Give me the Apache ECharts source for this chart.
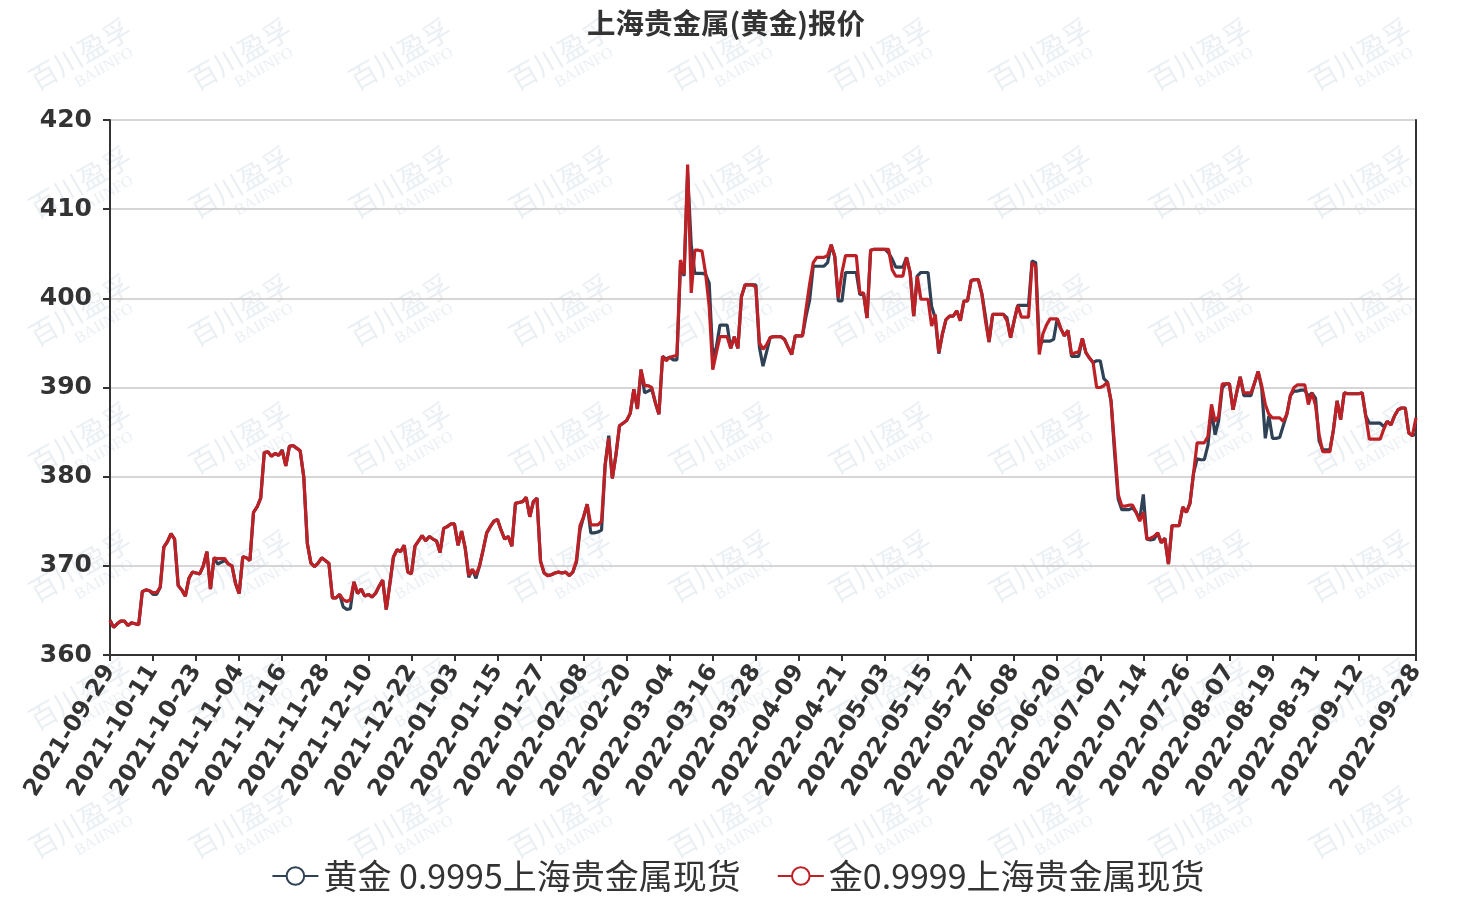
<!DOCTYPE html>
<html>
<head>
<meta charset="utf-8">
<script src="https://cdn.jsdelivr.net/npm/echarts@6/dist/echarts.min.js"></script>
<style>
html,body{margin:0;padding:0;background:#fff;}
#main{width:1476px;height:900px;}
</style>
</head>
<body>
<div id="main"></div>
<script>
// ---- data ----
const startDate = '2021-09-29';
const dayCount = 365;
const titleText = '上海贵金属(黄金)报价';
const seriesNames = ['黄金 0.9995上海贵金属现货', '金0.9999上海贵金属现货'];
const yTicks = [360, 370, 380, 390, 400, 410, 420];

// 黄金 0.9995上海贵金属现货 (daily, 2021-09-29 .. 2022-09-28)
const gold9995 = [
363.9,363.1,363.5,363.8,363.8,363.3,363.6,363.5,363.4,367.1,
367.3,367.2,366.8,366.8,367.6,372.1,372.7,373.6,373.0,367.8,
367.3,366.6,368.6,369.3,369.2,369.1,370.0,371.6,367.4,370.9,
370.2,370.4,370.6,370.2,370.0,368.0,366.9,371.0,370.9,370.6,
376.0,376.6,377.6,382.7,382.8,382.3,382.6,382.4,383.0,381.2,
383.4,383.5,383.2,382.9,380.0,372.5,370.3,369.9,370.3,370.9,
370.6,370.3,366.4,366.4,366.8,365.4,365.1,365.2,368.2,366.9,
367.4,366.6,366.8,366.5,366.9,367.7,368.4,365.1,368.0,371.0,
371.8,371.6,372.3,369.3,369.1,372.2,372.8,373.4,372.8,373.3,
373.0,372.8,371.5,374.2,374.4,374.7,374.7,372.3,373.9,372.0,
368.7,369.6,368.6,370.0,371.8,373.7,374.4,375.0,375.2,374.0,
373.0,373.3,372.2,377.0,377.1,377.2,377.7,375.5,377.2,377.6,
370.5,369.2,368.9,369.0,369.2,369.3,369.2,369.3,368.9,369.3,
370.4,374.0,375.5,376.9,373.7,373.7,373.8,374.0,381.3,384.6,
379.8,382.4,385.7,386.0,386.3,387.1,389.8,387.6,392.0,389.4,
389.6,389.8,388.3,387.0,393.5,393.2,393.4,393.1,393.1,403.8,
402.5,414.0,406.0,402.8,402.8,402.8,402.7,401.7,393.5,394.5,
397.0,397.0,397.0,394.4,395.7,394.4,400.2,401.5,401.5,401.5,
401.5,394.5,392.4,394.0,395.6,395.7,395.7,395.7,395.4,394.5,
393.7,395.8,395.8,395.8,398.0,399.8,403.6,403.6,403.6,403.6,
404.0,406.0,404.7,399.7,399.7,402.9,402.9,402.9,402.9,400.4,
400.6,397.8,405.4,405.5,405.5,405.5,405.5,405.1,404.4,403.5,
403.5,403.5,404.6,402.9,398.0,402.5,402.9,402.9,402.9,399.1,
397.8,393.8,396.0,397.6,398.0,398.0,398.6,397.5,399.7,399.7,
402.0,402.1,402.1,400.5,398.0,395.1,398.2,398.2,398.2,398.2,
397.8,395.6,397.5,399.2,399.2,399.2,399.2,404.2,404.0,394.7,
395.2,395.2,395.2,395.4,397.7,396.6,395.8,396.4,393.5,393.5,
393.5,395.5,393.9,393.3,392.8,393.0,393.0,391.0,390.6,388.5,
382.6,377.5,376.3,376.3,376.3,376.5,376.0,375.2,378.0,373.0,
372.9,373.0,373.7,372.6,373.1,370.2,374.5,374.5,374.5,376.6,
376.0,377.0,380.4,382.0,381.9,381.9,383.5,387.5,384.7,386.3,
390.0,390.4,390.4,387.5,389.4,391.2,389.1,389.1,389.1,390.5,
391.8,389.9,384.3,386.8,384.3,384.3,384.4,385.7,387.0,389.1,
389.6,389.6,389.7,389.7,389.0,389.4,388.8,384.0,383.0,383.0,
383.0,385.3,388.5,386.4,389.4,389.3,389.3,389.3,389.3,389.4,
386.8,386.0,386.0,386.0,386.0,385.6,386.2,385.8,386.8,387.5,
387.7,387.7,384.9,384.6,384.8
];

// 金0.9999上海贵金属现货 (daily, 2021-09-29 .. 2022-09-28)
const gold9999 = [
363.9,363.1,363.5,363.8,363.8,363.3,363.6,363.5,363.4,367.1,
367.3,367.2,367.0,367.0,367.6,372.1,372.7,373.6,373.0,367.8,
367.3,366.6,368.6,369.3,369.2,369.1,370.0,371.6,367.4,370.9,
370.8,370.8,370.8,370.2,370.0,368.0,366.9,371.0,370.9,370.6,
376.0,376.6,377.6,382.7,382.8,382.3,382.6,382.4,382.9,381.2,
383.4,383.5,383.2,382.9,380.0,372.5,370.3,369.9,370.3,370.9,
370.6,370.3,366.4,366.4,366.8,366.2,366.0,366.2,368.2,366.9,
367.4,366.6,366.8,366.5,366.9,367.7,368.4,365.1,368.0,371.0,
371.8,371.6,372.3,369.3,369.1,372.2,372.8,373.4,372.8,373.3,
373.0,372.8,371.5,374.2,374.4,374.7,374.7,372.3,373.9,372.0,
368.9,369.6,369.0,370.0,371.8,373.7,374.4,375.0,375.2,374.0,
373.0,373.3,372.2,377.0,377.1,377.2,377.7,375.5,377.2,377.6,
370.5,369.2,368.9,369.0,369.2,369.3,369.2,369.3,368.9,369.3,
370.6,374.5,375.5,376.9,374.6,374.6,374.6,375.0,381.3,384.3,
379.8,382.4,385.7,386.0,386.3,387.1,389.8,387.6,392.0,390.2,
390.2,390.0,388.3,387.0,393.5,393.0,393.4,393.5,393.6,404.3,
402.7,415.0,400.6,405.4,405.4,405.3,402.8,399.1,392.0,393.9,
395.7,395.7,395.7,394.4,395.7,394.4,400.2,401.5,401.5,401.5,
401.3,395.0,394.3,394.8,395.6,395.7,395.7,395.7,395.4,394.5,
393.7,395.8,395.8,395.8,398.8,401.6,404.0,404.6,404.6,404.6,
404.8,406.0,404.7,400.1,402.9,404.8,404.8,404.8,404.8,400.6,
400.6,397.8,405.4,405.5,405.5,405.5,405.5,405.5,403.2,402.5,
402.5,402.5,404.6,402.9,398.0,402.5,399.9,399.9,399.9,396.9,
398.2,393.9,396.0,397.6,398.0,398.0,398.6,397.5,399.7,399.7,
402.0,402.1,402.1,400.5,397.5,395.1,398.2,398.2,398.2,398.2,
397.5,395.6,397.5,399.2,397.9,397.9,397.9,404.0,403.6,393.7,
396.0,397.0,397.7,397.7,397.7,396.6,395.8,396.4,393.7,393.9,
394.0,395.5,393.9,393.3,392.8,390.0,390.0,390.2,390.6,388.5,
383.4,378.0,376.7,376.7,376.8,376.8,376.0,375.0,376.0,373.0,
373.1,373.3,373.7,372.6,373.1,370.2,374.5,374.5,374.5,376.6,
376.0,377.0,380.4,383.8,383.8,383.8,384.5,388.1,386.2,386.8,
390.4,390.4,390.4,387.5,389.4,391.2,389.4,389.4,389.4,390.5,
391.8,390.2,388.1,387.0,386.6,386.6,386.6,386.2,387.0,389.1,
390.0,390.3,390.3,390.3,388.1,389.4,388.0,384.7,382.8,382.8,
382.8,385.3,388.5,386.4,389.4,389.3,389.3,389.3,389.3,389.4,
386.8,384.2,384.2,384.2,384.2,385.3,386.2,385.8,386.8,387.5,
387.7,387.7,384.9,384.6,386.6
];

// ---- categories (calendar days) ----
const dates = [];
(function () {
  const d = new Date(startDate + 'T00:00:00Z');
  for (let i = 0; i < dayCount; i++) {
    const t = new Date(d.getTime() + i * 86400000);
    dates.push(t.toISOString().slice(0, 10));
  }
})();

const labelStep = 12;
const showIdx = (i) => (i % labelStep === 0 && i <= dayCount - 1 - labelStep) || i === dayCount - 1;

// ---- watermark ----
const wm = [];
for (let r = 0; r < 7; r++) {
  for (let c = 0; c < 9; c++) {
    wm.push({
      type: 'group',
      x: 80 + c * 160,
      y: 54 + r * 128,
      rotation: Math.PI / 6,
      silent: true,
      z: -10,
      children: [
        { type: 'text', x: 0, y: 0, style: { text: '百川盈孚', font: '28px "Noto Sans CJK SC"', fill: 'rgba(190,205,220,0.32)', textAlign: 'center', textVerticalAlign: 'middle' } },
        { type: 'text', x: 14, y: 24, style: { text: 'BAIINFO', font: '16px "Liberation Serif"', fill: 'rgba(190,205,220,0.32)', textAlign: 'center', textVerticalAlign: 'middle' } }
      ]
    });
  }
}

const chart = echarts.init(document.getElementById('main'), null, { renderer: 'canvas' });
chart.setOption({
  animation: false,
  backgroundColor: '#ffffff',
  graphic: wm,
  title: {
    text: titleText,
    left: 582,
    top: 4,
    textStyle: { fontFamily: '"Noto Sans CJK SC"', fontSize: 28.5, fontWeight: 'bold', color: '#333' }
  },
  legend: {
    left: 'center',
    top: 854,
    itemWidth: 46,
    itemHeight: 22,
    itemGap: 36,
    textStyle: { fontFamily: '"Noto Sans CJK SC"', fontSize: 34, color: '#333' },
    data: seriesNames
  },
  grid: { left: 110, right: 60, top: 120, bottom: 245, containLabel: false },
  xAxis: {
    type: 'category',
    data: dates,
    boundaryGap: false,
    axisLine: { lineStyle: { color: '#333', width: 2 } },
    axisTick: { interval: showIdx, length: 6, lineStyle: { color: '#333', width: 2 } },
    axisLabel: {
      interval: showIdx,
      rotate: 58,
      margin: 12,
      fontFamily: '"DejaVu Sans"',
      fontWeight: 'bold',
      fontSize: 23.5,
      color: '#333'
    },
    splitLine: { show: false }
  },
  yAxis: [{
    type: 'value',
    min: yTicks[0],
    max: yTicks[yTicks.length - 1],
    interval: 10,
    axisLine: { show: true, lineStyle: { color: '#333', width: 2 } },
    axisTick: { show: true, length: 7, lineStyle: { color: '#333', width: 2 } },
    axisLabel: { fontFamily: '"DejaVu Sans"', fontWeight: 'bold', fontSize: 25, color: '#333', margin: 18 },
    splitLine: { lineStyle: { color: '#c8c8c8', width: 1.5 } }
  }, {
    type: 'value',
    position: 'right',
    min: yTicks[0],
    max: yTicks[yTicks.length - 1],
    interval: 10,
    axisLine: { show: true, lineStyle: { color: '#333', width: 2 } },
    axisTick: { show: false },
    axisLabel: { show: false },
    splitLine: { show: false }
  }],
  series: [{
    name: seriesNames[0],
    type: 'line',
    data: gold9995,
    symbol: 'emptyCircle',
    symbolSize: 8,
    showSymbol: false,
    color: '#2f4154',
    lineStyle: { width: 3.2, color: '#2f4154' },
    z: 3
  }, {
    name: seriesNames[1],
    type: 'line',
    data: gold9999,
    symbol: 'emptyCircle',
    symbolSize: 8,
    showSymbol: false,
    color: '#bd2126',
    lineStyle: { width: 3.2, color: '#bd2126' },
    z: 4
  }]
});
</script>
</body>
</html>
